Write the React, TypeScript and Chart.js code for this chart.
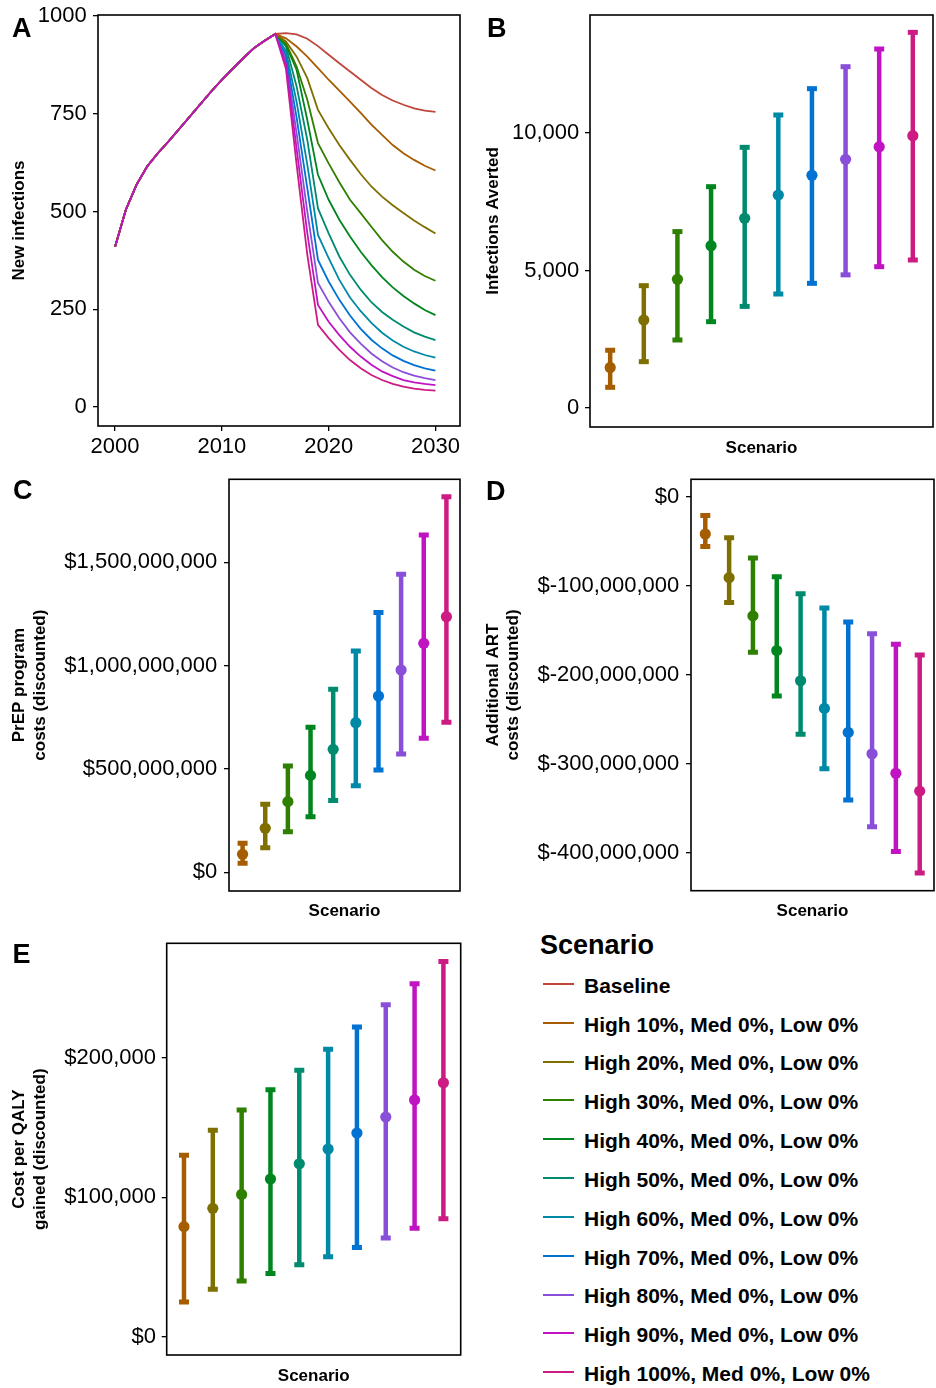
import React, { useEffect, useRef } from "react";
import { Chart, registerables } from "chart.js";

Chart.register(...registerables);

const FONT = "'Liberation Sans', Arial, Helvetica, sans-serif";
const TICK_SIZE = 22;

// ---------- Scenarios ----------
const scenarioNames = [
  "Baseline",
  "High 10%, Med 0%, Low 0%",
  "High 20%, Med 0%, Low 0%",
  "High 30%, Med 0%, Low 0%",
  "High 40%, Med 0%, Low 0%",
  "High 50%, Med 0%, Low 0%",
  "High 60%, Med 0%, Low 0%",
  "High 70%, Med 0%, Low 0%",
  "High 80%, Med 0%, Low 0%",
  "High 90%, Med 0%, Low 0%",
  "High 100%, Med 0%, Low 0%",
];
const scenarioColors = [
  "#C0463A", "#A65C00", "#7E6F00", "#2F7F00", "#00861E", "#008A6F",
  "#0089A7", "#0072D2", "#8A4FD8", "#C013C2", "#CC1B82",
];

// ---------- Panel A: new infections ----------
const years = [
  2000, 2001, 2002, 2003, 2004, 2005, 2006, 2007, 2008, 2009, 2010,
  2011, 2012, 2013, 2014, 2015, 2016, 2017, 2018, 2019, 2020,
  2021, 2022, 2023, 2024, 2025, 2026, 2027, 2028, 2029, 2030,
];
const history2000to2015 = [410, 504, 568, 615, 649, 679, 711, 743, 775, 807, 837, 865, 892, 918, 937, 954];
const baselineFrom2016 = [956, 953, 942, 923, 901, 879, 858, 837, 816, 798, 784, 773, 764, 758, 755];
const high10From2016 = [943, 922, 896, 867, 837, 809, 781, 752, 722, 696, 670, 649, 632, 617, 605];
const high20From2016 = [935, 896, 841, 760, 713, 670, 632, 596, 564, 538, 516, 496, 477, 460, 444];
const high30From2016 = [930, 871, 786, 675, 623, 575, 530, 496, 461, 427, 397, 372, 351, 335, 323];
const high40From2016 = [926, 862, 734, 594, 530, 479, 436, 397, 363, 332, 306, 284, 265, 248, 235];
const high50From2016 = [922, 820, 683, 508, 444, 385, 338, 300, 268, 243, 223, 206, 191, 180, 171];
const high60From2016 = [910, 780, 620, 440, 381, 325, 280, 245, 215, 190, 170, 154, 142, 133, 126];
const high70From2016 = [900, 740, 560, 376, 321, 274, 234, 200, 172, 150, 132, 118, 107, 99, 93];
const high80From2016 = [890, 700, 500, 317, 269, 227, 191, 162, 137, 117, 101, 89, 80, 74, 69];
const high90From2016 = [878, 660, 445, 261, 218, 184, 154, 129, 108, 91, 79, 69, 63, 59, 56];
const high100From2016 = [865, 620, 390, 210, 176, 146, 120, 99, 82, 69, 59, 52, 47, 44, 42];
const newInfectionsSeries = [
  [...history2000to2015, ...baselineFrom2016],
  [...history2000to2015, ...high10From2016],
  [...history2000to2015, ...high20From2016],
  [...history2000to2015, ...high30From2016],
  [...history2000to2015, ...high40From2016],
  [...history2000to2015, ...high50From2016],
  [...history2000to2015, ...high60From2016],
  [...history2000to2015, ...high70From2016],
  [...history2000to2015, ...high80From2016],
  [...history2000to2015, ...high90From2016],
  [...history2000to2015, ...high100From2016],
];
const yearTicks = [2000, 2010, 2020, 2030];
const yearTickLabels = ["2000", "2010", "2020", "2030"];
const infectionTicks = [0, 250, 500, 750, 1000];
const infectionTickLabels = ["0", "250", "500", "750", "1000"];

// ---------- Scenario positions (High 10% .. High 100%) ----------
const scenarioIndex = [1, 2, 3, 4, 5, 6, 7, 8, 9, 10];

// ---------- Panel B: infections averted ----------
const avertedMid = [1475, 3200, 4679, 5903, 6900, 7745, 8461, 9042, 9503, 9903];
const avertedLow = [752, 1685, 2473, 3139, 3695, 4145, 4533, 4842, 5139, 5382];
const avertedHigh = [2100, 4448, 6415, 8048, 9479, 10655, 11612, 12412, 13055, 13660];
const avertedTicks = [0, 5000, 10000];
const avertedTickLabels = ["0", "5,000", "10,000"];

// ---------- Panel C: PrEP program costs ----------
const prepMid = [87e6, 213e6, 342e6, 469e6, 595e6, 724e6, 853e6, 979e6, 1108e6, 1237e6];
const prepLow = [44e6, 119e6, 196e6, 269e6, 347e6, 419e6, 495e6, 573e6, 649e6, 726e6];
const prepHigh = [140e6, 329e6, 514e6, 702e6, 886e6, 1071e6, 1257e6, 1442e6, 1633e6, 1818e6];
const prepTicks = [0, 500e6, 1000e6, 1500e6];
const prepTickLabels = ["$0", "$500,000,000", "$1,000,000,000", "$1,500,000,000"];

// ---------- Panel D: additional ART costs ----------
const artMid = [-42e6, -91e6, -134e6, -173e6, -207e6, -238e6, -265e6, -289e6, -311e6, -331e6];
const artLow = [-56e6, -119e6, -175e6, -224e6, -267e6, -306e6, -341e6, -371e6, -399e6, -423e6];
const artHigh = [-21e6, -46e6, -69e6, -90e6, -109e6, -125e6, -141e6, -154e6, -166e6, -178e6];
const artTicks = [-400e6, -300e6, -200e6, -100e6, 0];
const artTickLabels = ["$-400,000,000", "$-300,000,000", "$-200,000,000", "$-100,000,000", "$0"];

// ---------- Panel E: cost per QALY ----------
const qalyMid = [78900, 92000, 102000, 113000, 124000, 134500, 146000, 157500, 169700, 182000];
const qalyLow = [24900, 34000, 40000, 45400, 51600, 57300, 64000, 70800, 77700, 84600];
const qalyHigh = [130000, 148000, 162500, 177000, 191000, 206000, 222000, 238000, 253000, 269000];
const qalyTicks = [0, 100000, 200000];
const qalyTickLabels = ["$0", "$100,000", "$200,000"];

// ---------- helpers ----------
const framePlugin = {
  id: "panelFrame",
  afterDatasetsDraw(chart: any) {
    const { ctx, chartArea: a } = chart;
    ctx.save();
    ctx.strokeStyle = "#000";
    ctx.lineWidth = 1.6;
    ctx.strokeRect(a.left, a.top, a.right - a.left, a.bottom - a.top);
    ctx.restore();
  },
};

function yScale(o: {
  min: number; max: number; ticks: number[]; labels: string[]; width: number;
  title: string | string[]; titlePad: number; labelPad: number;
}) {
  return {
    type: "linear",
    min: o.min,
    max: o.max,
    afterBuildTicks: (s: any) => { s.ticks = o.ticks.map((v) => ({ value: v })); },
    afterFit: (s: any) => { s.width = o.width; s.paddingTop = 0; s.paddingBottom = 0; },
    ticks: {
      callback: (_v: any, i: number) => o.labels[i],
      font: { family: FONT, size: TICK_SIZE },
      color: "#000",
      padding: o.labelPad,
      autoSkip: false,
    },
    grid: { display: true, drawOnChartArea: false, drawTicks: true, tickLength: 5, color: "#000", lineWidth: 1.3 },
    border: { display: false },
    title: {
      display: true,
      text: o.title,
      font: { family: FONT, size: 17, weight: "bold", lineHeight: 1.2 },
      color: "#000",
      padding: { top: o.titlePad, bottom: 0 },
    },
  };
}

function scenarioXScale(height: number, titlePad: number) {
  return {
    type: "linear",
    min: 0.4,
    max: 10.6,
    afterFit: (s: any) => { s.height = height; s.paddingLeft = 0; s.paddingRight = 0; },
    ticks: { display: false },
    grid: { display: false },
    border: { display: false },
    title: {
      display: true,
      text: "Scenario",
      font: { family: FONT, size: 17, weight: "bold", lineHeight: 1.2 },
      color: "#000",
      padding: { top: 0, bottom: titlePad },
    },
  };
}

function errorBarConfig(p: {
  mid: number[]; low: number[]; high: number[];
  y: any; xHeight: number; xTitlePad: number; padding: any;
}) {
  const colors = scenarioColors.slice(1);
  const bars = scenarioIndex.map((x, i) => ({
    data: [{ x, y: p.low[i] }, { x, y: p.high[i] }],
    borderColor: colors[i],
    borderWidth: 4.5,
    pointStyle: "line",
    pointRadius: 5,
    pointHoverRadius: 5,
    pointBorderWidth: 5,
    pointBorderColor: colors[i],
    pointBackgroundColor: colors[i],
    tension: 0,
  }));
  const mids = {
    data: scenarioIndex.map((x, i) => ({ x, y: p.mid[i] })),
    showLine: false,
    pointRadius: 5.6,
    pointHoverRadius: 5.6,
    pointBorderWidth: 0,
    pointBackgroundColor: colors,
    pointBorderColor: colors,
    order: -1,
  };
  return {
    type: "line",
    data: { datasets: [...bars, mids] },
    options: {
      responsive: false,
      animation: false,
      devicePixelRatio: 1,
      events: [],
      layout: { padding: p.padding, autoPadding: false },
      plugins: { legend: { display: false }, tooltip: { enabled: false } },
      scales: { x: scenarioXScale(p.xHeight, p.xTitlePad), y: p.y },
    },
    plugins: [framePlugin],
  };
}

function lineConfig() {
  const datasets = newInfectionsSeries.map((vals, k) => ({
    data: years.map((yr, j) => ({ x: yr, y: vals[j] })),
    borderColor: scenarioColors[k],
    borderWidth: 1.8,
    pointRadius: 0,
    tension: 0,
    order: k === 9 ? -1 : 0,
  }));
  return {
    type: "line",
    data: { datasets },
    options: {
      responsive: false,
      animation: false,
      devicePixelRatio: 1,
      events: [],
      layout: { padding: { left: 0, top: 15, right: 10, bottom: 0 }, autoPadding: false },
      plugins: { legend: { display: false }, tooltip: { enabled: false } },
      scales: {
        x: {
          type: "linear",
          min: 1998.4,
          max: 2032.3,
          afterBuildTicks: (s: any) => { s.ticks = yearTicks.map((v) => ({ value: v })); },
          afterFit: (s: any) => { s.height = 44; s.paddingLeft = 0; s.paddingRight = 0; },
          ticks: {
            callback: (_v: any, i: number) => yearTickLabels[i],
            font: { family: FONT, size: TICK_SIZE },
            color: "#000",
            padding: 3,
            maxRotation: 0,
            autoSkip: false,
          },
          grid: { display: true, drawOnChartArea: false, drawTicks: true, tickLength: 5, color: "#000", lineWidth: 1.3 },
          border: { display: false },
        },
        y: yScale({
          min: -48.6, max: 1002.6, ticks: infectionTicks, labels: infectionTickLabels,
          width: 98, title: "New infections", titlePad: 9.3, labelPad: 6.3,
        }),
      },
    },
    plugins: [framePlugin],
  };
}

type Panel = { left: number; top: number; width: number; height: number; config: () => any };

const panels: Panel[] = [
  { left: 0, top: 0, width: 470, height: 470, config: lineConfig },
  {
    left: 470, top: 0, width: 466, height: 470,
    config: () => errorBarConfig({
      mid: avertedMid, low: avertedLow, high: avertedHigh,
      y: yScale({ min: -691, max: 14291, ticks: avertedTicks, labels: avertedTickLabels, width: 120, title: "Infections Averted", titlePad: 12.8, labelPad: 5.7 }),
      xHeight: 43, xTitlePad: 11.8, padding: { left: 0, top: 15, right: 3, bottom: 0 },
    }),
  },
  {
    left: 0, top: 470, width: 470, height: 460,
    config: () => errorBarConfig({
      mid: prepMid, low: prepLow, high: prepHigh,
      y: yScale({ min: -90.5e6, max: 1902e6, ticks: prepTicks, labels: prepTickLabels, width: 229, title: ["PrEP program", "costs (discounted)"], titlePad: 9.3, labelPad: 6.7 }),
      xHeight: 39, xTitlePad: 8.1, padding: { left: 0, top: 9.3, right: 10, bottom: 0 },
    }),
  },
  {
    left: 470, top: 470, width: 466, height: 460,
    config: () => errorBarConfig({
      mid: artMid, low: artLow, high: artHigh,
      y: yScale({ min: -443e6, max: 19.6e6, ticks: artTicks, labels: artTickLabels, width: 221, title: ["Additional ART", "costs (discounted)"], titlePad: 12.8, labelPad: 6.7 }),
      xHeight: 39.3, xTitlePad: 8.1, padding: { left: 0, top: 9.3, right: 2, bottom: 0 },
    }),
  },
  {
    left: 0, top: 930, width: 470, height: 458,
    config: () => errorBarConfig({
      mid: qalyMid, low: qalyLow, high: qalyHigh,
      y: yScale({ min: -13100, max: 282000, ticks: qalyTicks, labels: qalyTickLabels, width: 166.7, title: ["Cost per QALY", "gained (discounted)"], titlePad: 9.3, labelPad: 5.7 }),
      xHeight: 33, xTitlePad: 1.8, padding: { left: 0, top: 13.3, right: 9.3, bottom: 0 },
    }),
  },
];

const panelLetters = [
  { text: "A", left: 12, top: 14.9 },
  { text: "B", left: 487, top: 15.4 },
  { text: "C", left: 13, top: 477 },
  { text: "D", left: 486, top: 478 },
  { text: "E", left: 12.5, top: 941 },
];

function ChartCanvas({ panel }: { panel: Panel }) {
  const ref = useRef<HTMLCanvasElement | null>(null);
  useEffect(() => {
    if (!ref.current) return;
    const chart = new Chart(ref.current, panel.config());
    return () => chart.destroy();
  }, [panel]);
  return (
    <canvas
      ref={ref}
      width={panel.width}
      height={panel.height}
      style={{ position: "absolute", left: panel.left, top: panel.top, width: panel.width, height: panel.height }}
    />
  );
}

export default function App() {
  return (
    <div
      style={{
        position: "absolute", left: 0, top: 0, width: 936, height: 1388,
        background: "#fff", fontFamily: FONT, color: "#000", overflow: "hidden",
      }}
    >
      {panels.map((p, i) => (
        <ChartCanvas key={i} panel={p} />
      ))}
      {panelLetters.map((l) => (
        <div
          key={l.text}
          style={{ position: "absolute", left: l.left, top: l.top, fontSize: 27, lineHeight: "27px", fontWeight: "bold" }}
        >
          {l.text}
        </div>
      ))}
      <div style={{ position: "absolute", left: 540, top: 932, fontSize: 27, lineHeight: "27px", fontWeight: "bold" }}>
        Scenario
      </div>
      {scenarioNames.map((name, i) => (
        <React.Fragment key={name}>
          <div
            style={{
              position: "absolute", left: 543, top: 983 + 38.83 * i, width: 31, height: 2,
              background: scenarioColors[i],
            }}
          />
          <div
            style={{
              position: "absolute", left: 584, top: 974.8 + 38.83 * i, fontSize: 21,
              lineHeight: "21px", fontWeight: "bold", whiteSpace: "nowrap",
            }}
          >
            {name}
          </div>
        </React.Fragment>
      ))}
    </div>
  );
}
